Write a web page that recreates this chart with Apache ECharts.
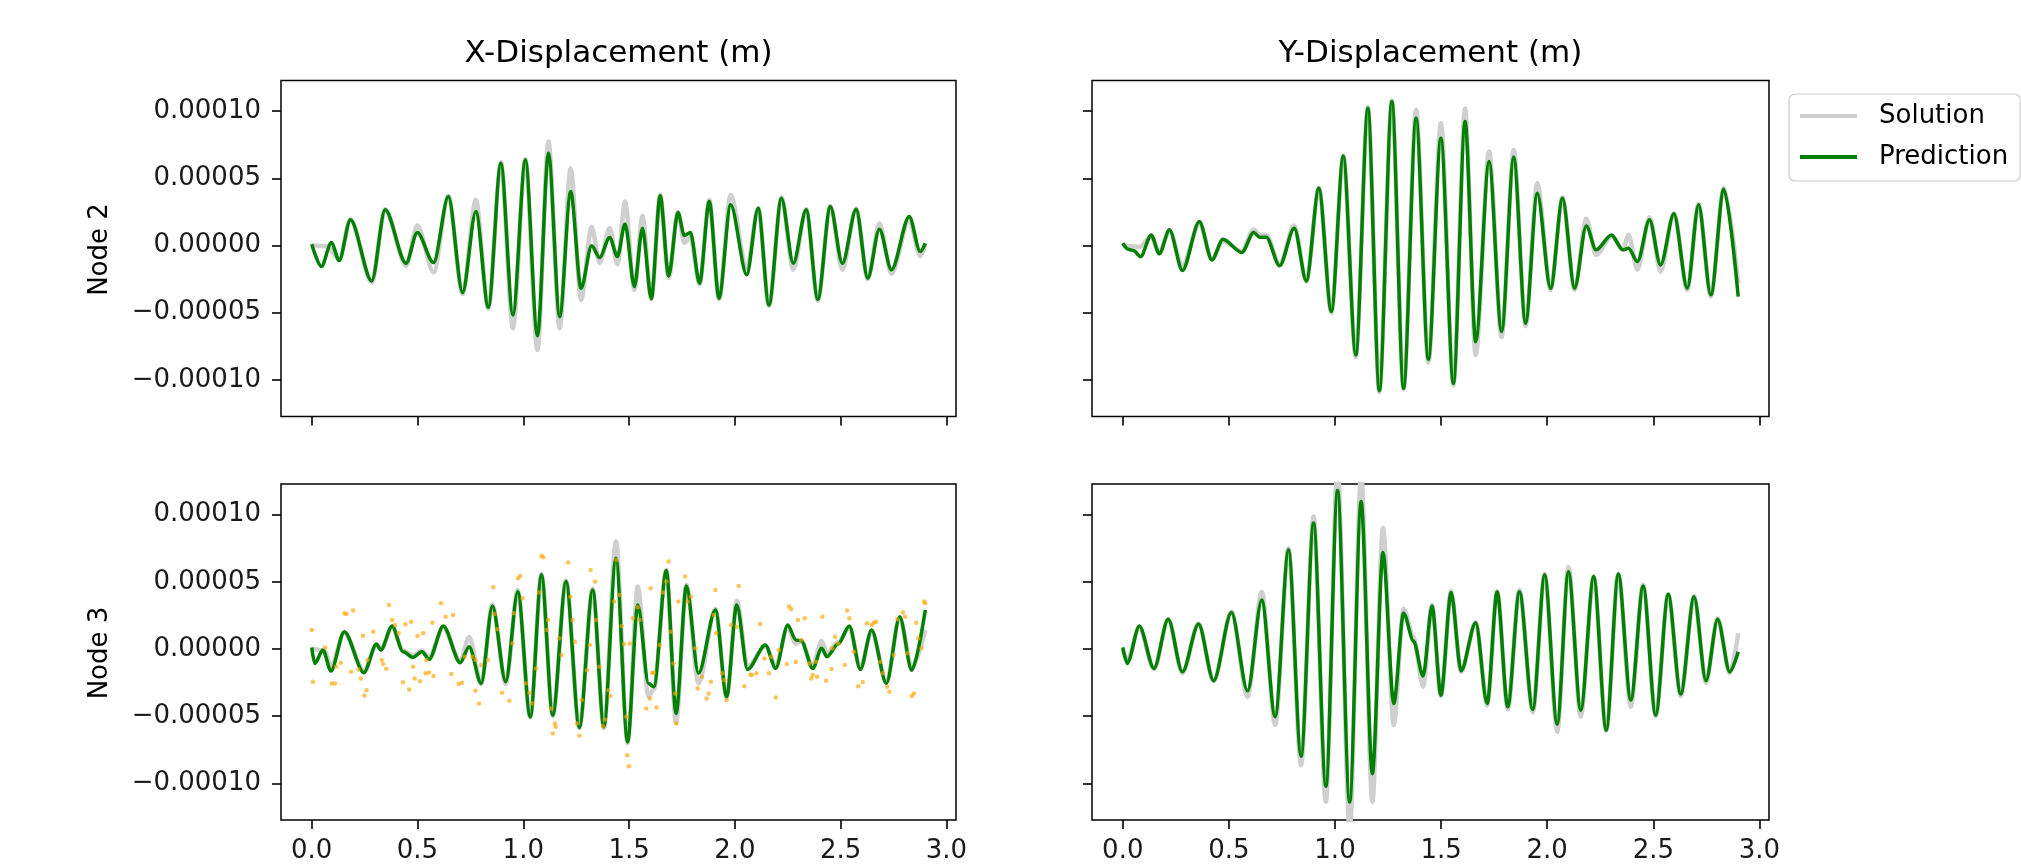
<!DOCTYPE html>
<html><head><meta charset="utf-8">
<script src="https://cdn.jsdelivr.net/npm/echarts@6/dist/echarts.min.js"></script>
<style>html,body{margin:0;padding:0;background:#fff}#c{width:2021px;height:864px}</style>
</head><body><div id="c"></div>
<script>
// values stored in units of 1e-5 m
const xTicks = [0, 0.5, 1, 1.5, 2, 2.5, 3];
const yTicks = [-10, -5, 0, 5, 10];
const colTitles = ['X-Displacement (m)', 'Y-Displacement (m)'];
const rowLabels = ['Node 2', 'Node 3'];
const seriesNames = ['Solution', 'Prediction'];

const node2XPred = [[0,0.1],[0.046,-1.56],[0.093,0.22],[0.13,-1.12],[0.183,1.91],[0.284,-2.63],[0.347,2.66],[0.446,-1.32],[0.499,0.97],[0.576,-1.27],[0.646,3.65],[0.713,-3.5],[0.776,2.53],[0.835,-4.59],[0.894,6.13],[0.951,-5.16],[1.01,6.38],[1.067,-6.72],[1.119,6.87],[1.172,-5.29],[1.224,4.02],[1.273,-3.18],[1.323,-0.02],[1.361,-0.89],[1.408,0.6],[1.445,-0.82],[1.481,1.61],[1.525,-3.05],[1.563,1.29],[1.605,-3.95],[1.647,3.7],[1.687,-2.26],[1.731,2.46],[1.761,0.75],[1.79,0.97],[1.833,-2.8],[1.879,3.28],[1.925,-3.92],[1.98,3.03],[2.056,-2.18],[2.11,2.78],[2.161,-4.42],[2.22,3.52],[2.276,-1.32],[2.337,2.66],[2.392,-4.0],[2.451,2.9],[2.508,-1.32],[2.573,2.7],[2.628,-2.43],[2.683,1.22],[2.74,-1.81],[2.824,2.16],[2.876,-0.45],[2.9,0.17]];
const node2XSol = [[0,0],[0.07,-0.05],[0.13,-1.0],[0.183,1.95],[0.284,-2.75],[0.347,2.7],[0.446,-1.5],[0.499,1.5],[0.576,-2.0],[0.646,3.7],[0.713,-3.6],[0.776,3.4],[0.835,-4.7],[0.894,6.2],[0.951,-6.15],[1.01,6.4],[1.067,-7.77],[1.119,7.74],[1.172,-6.15],[1.224,5.76],[1.273,-4.04],[1.323,1.4],[1.361,-1.3],[1.408,1.3],[1.445,-1.4],[1.481,3.28],[1.525,-3.3],[1.563,2.2],[1.605,-4.0],[1.647,3.8],[1.687,-2.4],[1.731,2.5],[1.761,0.2],[1.79,0.6],[1.833,-2.9],[1.879,3.4],[1.925,-4.0],[1.98,3.77],[2.056,-1.7],[2.11,2.8],[2.161,-4.5],[2.22,3.6],[2.276,-1.8],[2.337,2.7],[2.392,-4.1],[2.451,2.95],[2.508,-1.8],[2.573,2.75],[2.628,-2.5],[2.683,1.66],[2.74,-2.1],[2.824,1.9],[2.876,-0.8],[2.9,0.1]];

const node2YPred = [[0,0.17],[0.025,-0.27],[0.05,-0.37],[0.084,-0.82],[0.134,0.79],[0.172,-0.62],[0.22,1.17],[0.281,-1.86],[0.361,1.79],[0.42,-1.07],[0.472,0.47],[0.561,-0.52],[0.617,0.97],[0.645,0.62],[0.676,0.62],[0.739,-1.51],[0.808,1.29],[0.865,-2.63],[0.924,4.27],[0.983,-4.91],[1.039,6.67],[1.098,-8.14],[1.155,10.22],[1.209,-10.79],[1.268,10.72],[1.323,-10.62],[1.382,9.48],[1.44,-8.46],[1.499,7.99],[1.558,-10.25],[1.613,9.23],[1.663,-7.15],[1.726,6.25],[1.785,-6.4],[1.842,6.58],[1.898,-5.78],[1.953,3.9],[2.016,-3.18],[2.072,3.52],[2.129,-3.18],[2.184,1.46],[2.23,-0.32],[2.303,0.79],[2.356,-0.32],[2.383,-0.2],[2.425,-1.19],[2.482,1.91],[2.534,-1.44],[2.597,2.36],[2.66,-3.18],[2.713,3.03],[2.771,-3.67],[2.832,4.19],[2.9,-3.8]];
const node2YSol = [[0,0],[0.08,-0.1],[0.134,0.7],[0.172,-0.5],[0.22,1.1],[0.281,-1.5],[0.361,1.6],[0.42,-1.0],[0.472,0.3],[0.561,-0.4],[0.617,1.2],[0.645,0.8],[0.676,0.8],[0.739,-1.4],[0.808,1.5],[0.865,-2.7],[0.924,4.3],[0.983,-5.0],[1.039,6.7],[1.098,-8.3],[1.155,10.3],[1.209,-10.9],[1.268,10.8],[1.323,-10.7],[1.382,10.1],[1.44,-8.7],[1.499,9.1],[1.558,-10.4],[1.613,10.2],[1.663,-8.14],[1.726,7.0],[1.785,-6.8],[1.842,7.1],[1.898,-6.0],[1.953,4.65],[2.016,-3.3],[2.072,3.6],[2.129,-3.3],[2.184,2.0],[2.23,-0.7],[2.303,0.7],[2.356,-0.3],[2.383,0.8],[2.425,-1.8],[2.482,2.1],[2.534,-1.95],[2.597,2.4],[2.66,-3.3],[2.713,3.1],[2.771,-3.8],[2.832,4.3],[2.9,-2.8]];

const node3XPred = [[0,0.12],[0.015,-1.07],[0.053,-0.07],[0.091,-1.64],[0.154,1.29],[0.247,-1.76],[0.306,0.37],[0.327,-0.07],[0.38,1.71],[0.432,-0.2],[0.479,-0.62],[0.521,-0.2],[0.555,-0.77],[0.622,1.71],[0.702,-1.02],[0.744,0.17],[0.801,-2.56],[0.854,3.2],[0.917,-2.43],[0.974,4.27],[1.033,-5.04],[1.086,5.52],[1.139,-4.92],[1.202,5.03],[1.265,-5.84],[1.328,4.4],[1.381,-5.79],[1.438,6.76],[1.493,-6.91],[1.541,3.28],[1.592,-2.56],[1.617,-2.81],[1.676,5.84],[1.722,-4.8],[1.771,4.7],[1.828,-1.81],[1.908,2.91],[1.961,-3.55],[2.009,3.28],[2.06,-1.52],[2.144,0.3],[2.193,-1.44],[2.25,1.79],[2.288,0.67],[2.313,0.62],[2.368,-1.44],[2.41,0.05],[2.435,-0.57],[2.488,0.37],[2.541,1.71],[2.593,-1.52],[2.646,1.42],[2.716,-2.56],[2.779,2.41],[2.836,-1.57],[2.9,2.91]];
const node3XSol = [[0,0],[0.06,-0.1],[0.091,-1.3],[0.154,1.2],[0.247,-1.6],[0.306,0.3],[0.327,0.0],[0.38,1.6],[0.432,-0.1],[0.479,-0.5],[0.521,-0.1],[0.555,-0.6],[0.622,1.6],[0.702,-0.9],[0.744,0.9],[0.801,-2.6],[0.854,3.3],[0.917,-2.6],[0.974,4.4],[1.033,-5.1],[1.086,5.6],[1.139,-5.0],[1.202,5.1],[1.265,-5.9],[1.328,4.5],[1.381,-5.9],[1.438,8.0],[1.493,-7.0],[1.541,4.65],[1.592,-3.55],[1.617,-3.0],[1.676,5.9],[1.722,-5.5],[1.771,4.8],[1.828,-2.56],[1.908,3.0],[1.961,-3.6],[2.009,3.6],[2.06,-1.3],[2.144,0.2],[2.193,-1.2],[2.25,1.6],[2.288,0.4],[2.313,0.6],[2.368,-1.2],[2.41,0.6],[2.435,-0.3],[2.488,0.5],[2.541,1.6],[2.593,-1.4],[2.646,1.3],[2.716,-2.4],[2.779,2.3],[2.836,-1.4],[2.9,1.42]];
const node3XObs = [[0.0,1.42],[0.006,-2.43],[0.063,0.12],[0.095,-2.56],[0.11,-2.56],[0.116,-1.32],[0.137,-1.02],[0.154,2.66],[0.164,2.61],[0.196,2.86],[0.186,-1.69],[0.221,-1.52],[0.232,-2.19],[0.242,0.99],[0.249,-3.45],[0.259,-3.06],[0.264,-0.82],[0.291,1.29],[0.331,-0.82],[0.337,-1.12],[0.352,-1.47],[0.365,3.28],[0.38,2.16],[0.394,1.79],[0.411,1.17],[0.432,-2.48],[0.443,1.84],[0.46,-3.01],[0.47,2.04],[0.479,-1.32],[0.487,-2.19],[0.5,0.97],[0.512,-2.39],[0.527,1.17],[0.538,-1.81],[0.554,-1.74],[0.576,-2.01],[0.542,-0.82],[0.571,1.96],[0.611,3.4],[0.633,2.41],[0.66,-1.86],[0.668,2.53],[0.696,-2.61],[0.711,-2.51],[0.723,-0.57],[0.759,-0.57],[0.774,-0.82],[0.791,-4.05],[0.774,-3.11],[0.801,-1.19],[0.833,-0.82],[0.858,4.6],[0.865,2.61],[0.879,1.47],[0.9,-3.25],[0.934,-3.85],[0.949,0.42],[0.955,2.66],[0.976,5.27],[0.985,5.44],[0.997,3.78],[1.012,-2.56],[1.029,-3.25],[1.044,-4.05],[1.06,-1.44],[1.075,4.2],[1.086,6.93],[1.094,6.83],[1.111,1.42],[1.117,2.16],[1.132,-4.42],[1.149,-5.54],[1.139,-6.29],[1.153,-5.79],[1.17,0.8],[1.181,-0.45],[1.212,6.43],[1.223,3.9],[1.233,2.16],[1.244,0.55],[1.254,-5.54],[1.265,-6.46],[1.276,-3.8],[1.301,-1.57],[1.314,0.3],[1.318,5.89],[1.339,5.02],[1.343,2.16],[1.36,-1.32],[1.377,-5.74],[1.385,-5.24],[1.402,-3.06],[1.412,-3.5],[1.429,3.53],[1.44,6.63],[1.455,4.02],[1.465,1.71],[1.476,0.37],[1.487,-5.04],[1.491,-7.9],[1.499,-8.72],[1.503,0.42],[1.518,2.29],[1.541,3.11],[1.55,2.16],[1.581,-4.42],[1.598,-3.68],[1.602,4.52],[1.609,-1.76],[1.617,-1.76],[1.63,-4.35],[1.645,0.3],[1.659,4.2],[1.676,5.02],[1.687,6.51],[1.697,1.29],[1.71,-1.07],[1.718,-3.3],[1.723,-5.54],[1.733,3.53],[1.765,5.39],[1.777,3.53],[1.792,3.9],[1.813,0.05],[1.824,-2.93],[1.845,-2.06],[1.866,-3.68],[1.876,-3.3],[1.887,-2.43],[1.9,2.53],[1.908,4.4],[1.912,1.17],[1.94,-1.81],[1.95,-2.31],[1.961,-3.8],[1.982,1.79],[2.009,1.66],[2.018,4.7],[2.045,-2.76],[2.073,-1.89],[2.081,-1.94],[2.102,-1.81],[2.119,1.86],[2.14,-0.7],[2.161,-1.81],[2.172,-0.57],[2.193,-3.6],[2.207,-0.07],[2.245,-1.12],[2.256,3.16],[2.266,2.96],[2.288,-0.94],[2.298,2.16],[2.313,0.67],[2.33,2.29],[2.351,-1.07],[2.361,-2.19],[2.368,-1.94],[2.383,-0.94],[2.389,-2.06],[2.414,2.41],[2.431,-2.36],[2.456,-1.49],[2.46,0.05],[2.473,0.92],[2.488,0.42],[2.519,-1.19],[2.53,2.86],[2.541,2.29],[2.562,-0.2],[2.583,-2.76],[2.604,-2.46],[2.625,1.91],[2.646,1.79],[2.657,1.96],[2.667,2.04],[2.688,-0.94],[2.699,-1.81],[2.72,-2.81],[2.73,-3.18],[2.751,-0.45],[2.768,2.21],[2.794,2.71],[2.804,2.41],[2.815,-0.32],[2.836,-3.5],[2.846,-3.3],[2.857,1.96],[2.867,0.8],[2.882,0.05],[2.895,3.53],[2.899,3.4]];

const node3YPred = [[0,0.12],[0.021,-1.07],[0.078,1.71],[0.147,-1.44],[0.214,2.21],[0.281,-1.69],[0.357,1.86],[0.428,-2.36],[0.512,2.71],[0.588,-3.11],[0.655,3.65],[0.718,-5.04],[0.781,7.38],[0.84,-7.98],[0.899,9.37],[0.957,-10.21],[1.012,11.8],[1.069,-11.38],[1.123,10.98],[1.176,-9.27],[1.226,7.18],[1.277,-4.05],[1.323,2.66],[1.37,0.6],[1.415,-2.01],[1.457,3.2],[1.499,-3.43],[1.547,4.2],[1.594,-1.61],[1.663,1.96],[1.717,-4.05],[1.764,4.27],[1.814,-4.3],[1.869,4.27],[1.932,-4.5],[1.988,5.52],[2.047,-5.59],[2.1,5.76],[2.158,-4.55],[2.219,5.39],[2.278,-6.04],[2.335,5.59],[2.394,-3.8],[2.452,4.7],[2.511,-4.92],[2.57,4.07],[2.629,-3.35],[2.692,3.9],[2.748,-2.36],[2.803,2.21],[2.86,-1.69],[2.9,-0.2]];
const node3YSol = [[0,0],[0.021,-0.8],[0.078,1.6],[0.147,-1.5],[0.214,2.2],[0.281,-1.8],[0.357,1.9],[0.428,-2.4],[0.512,2.8],[0.588,-3.55],[0.655,4.27],[0.718,-5.66],[0.781,7.5],[0.84,-8.66],[0.899,9.87],[0.957,-11.38],[1.012,13.5],[1.069,-13.5],[1.123,13.0],[1.176,-11.38],[1.226,9.0],[1.277,-5.66],[1.323,3.0],[1.37,0.9],[1.415,-2.8],[1.457,3.3],[1.499,-3.5],[1.547,4.3],[1.594,-1.7],[1.663,2.0],[1.717,-4.2],[1.764,4.3],[1.814,-4.5],[1.869,4.4],[1.932,-4.7],[1.988,5.6],[2.047,-6.15],[2.1,6.1],[2.158,-5.04],[2.219,5.4],[2.278,-6.1],[2.335,5.6],[2.394,-4.3],[2.452,4.8],[2.511,-5.0],[2.57,4.1],[2.629,-3.5],[2.692,3.95],[2.748,-2.5],[2.803,2.3],[2.86,-1.8],[2.9,1.17]];

const panels = [
  {sol: node2XSol, pred: node2XPred},
  {sol: node2YSol, pred: node2YPred},
  {sol: node3XSol, pred: node3XPred, obs: node3XObs},
  {sol: node3YSol, pred: node3YPred}
];

const FONT = 'DejaVu Sans';
const SOL_COLOR = '#cfcfcf';
const PRED_COLOR = '#008000';
const grids = [
  {left: 281, top: 80.5, width: 675, height: 336},
  {left: 1092, top: 80.5, width: 677, height: 336},
  {left: 281, top: 484, width: 675, height: 336},
  {left: 1092, top: 484, width: 677, height: 336}
].map(g => Object.assign(g, {show: true, borderColor: '#000', borderWidth: 1.5, backgroundColor: '#fff', containLabel: false}));

const fmtY = v => (v < 0 ? '\u2212' : '') + (Math.abs(v) * 1e-5).toFixed(5);

const xAxes = grids.map((g, i) => ({
  type: 'value', gridIndex: i, min: -0.145, max: 3.045, position: 'bottom',
  axisLine: {show: false, onZero: false}, splitLine: {show: false},
  axisTick: {show: true, inside: false, length: 9, lineStyle: {color: '#000', width: 1.6}, customValues: xTicks},
  axisLabel: {show: i >= 2, customValues: xTicks, margin: 18, fontSize: 26, fontFamily: FONT, color: '#1a1a1a', formatter: v => v.toFixed(1)}
}));
const yAxes = grids.map((g, i) => ({
  type: 'value', gridIndex: i, min: -12.72, max: 12.28, position: 'left',
  axisLine: {show: false, onZero: false}, splitLine: {show: false},
  axisTick: {show: true, inside: false, length: 9, lineStyle: {color: '#000', width: 1.6}, customValues: yTicks},
  axisLabel: {show: i % 2 === 0, customValues: yTicks, margin: 20, fontSize: 26, fontFamily: FONT, color: '#1a1a1a', formatter: fmtY}
}));

const series = [];
panels.forEach((p, i) => {
  series.push({type: 'line', name: seriesNames[0], xAxisIndex: i, yAxisIndex: i, data: p.sol,
    symbol: 'none', smooth: 0.3, smoothMonotone: 'x', clip: true, z: 2,
    lineStyle: {color: SOL_COLOR, width: 4.5}, itemStyle: {color: SOL_COLOR}});
  series.push({type: 'line', name: seriesNames[1], xAxisIndex: i, yAxisIndex: i, data: p.pred,
    symbol: 'none', smooth: 0.3, smoothMonotone: 'x', clip: true, z: 3,
    lineStyle: {color: PRED_COLOR, width: 3.5}, itemStyle: {color: PRED_COLOR}});
  if (p.obs) {
    series.push({type: 'scatter', name: 'Observation', xAxisIndex: i, yAxisIndex: i, data: p.obs,
      symbol: 'circle', symbolSize: 4.5, z: 4, itemStyle: {color: '#ffa500', opacity: 0.65}});
  }
});

const graphic = [];
colTitles.forEach((t, c) => {
  const g = grids[c];
  graphic.push({type: 'text', x: g.left + g.width / 2, y: 54, style: {text: t, font: '31px ' + FONT, fill: '#000', align: 'center', verticalAlign: 'middle'}});
});
rowLabels.forEach((t, r) => {
  const g = grids[r * 2];
  graphic.push({type: 'text', x: 100, y: g.top + g.height / 2 + 1, rotation: Math.PI / 2, style: {text: t, font: '26px ' + FONT, fill: '#000', align: 'center', verticalAlign: 'middle'}});
});

const chart = echarts.init(document.getElementById('c'), null, {renderer: 'canvas', width: 2021, height: 864});
chart.setOption({
  animation: false,
  backgroundColor: '#fff',
  grid: grids, xAxis: xAxes, yAxis: yAxes, series: series, graphic: graphic,
  legend: {
    data: [
      {name: seriesNames[0], lineStyle: {color: SOL_COLOR, width: 4}},
      {name: seriesNames[1], lineStyle: {color: PRED_COLOR, width: 3.8}}
    ],
    orient: 'vertical', left: 1789, top: 94,
    itemWidth: 57, itemHeight: 26, itemGap: 15, padding: [9, 12, 11, 9],
    itemStyle: {opacity: 0},
    borderColor: '#cccccc', borderWidth: 1.2, borderRadius: 6, backgroundColor: 'rgba(255,255,255,0.8)',
    textStyle: {fontSize: 26, fontFamily: FONT, color: '#000', padding: [0, 0, 0, 17]},
    selectedMode: false
  }
});
</script>
</body></html>
